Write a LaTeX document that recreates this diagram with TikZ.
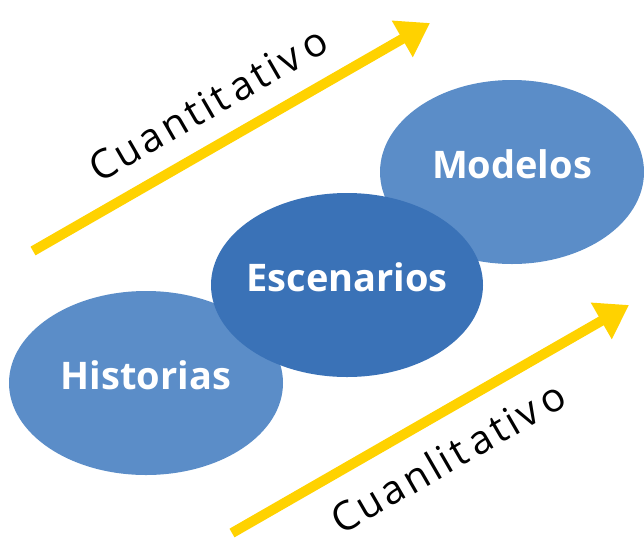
\documentclass[tikz,border=0pt]{standalone}
\usepackage{fontspec}
\setmainfont{Open Sans}
\usetikzlibrary{shapes.geometric, arrows.meta}
\definecolor{softblue}{HTML}{5B8DC8}
\definecolor{deepblue}{HTML}{3A72B7}
\definecolor{gold}{HTML}{FFD200}
\tikzset{
bubble/.style={ellipse, fill=softblue, text=white, inner ysep=0pt, inner xsep=-30pt,
  minimum width=272pt, minimum height=184pt, text depth=16pt,
  font=\bfseries\fontsize{38}{38}\selectfont}, % the three blue ellipses
trend/.style={gold, line width=10pt, -{Triangle[width=40pt,length=32pt]}}, % yellow arrows
trendlabel/.style={rotate=30, inner sep=0pt,
  font=\fontsize{40}{40}\selectfont\addfontfeatures{LetterSpace=8}}, % slanted words
}
\begin{document}
\begin{tikzpicture}[x=1pt, y=-1pt]
    \useasboundingbox (0,0) rectangle (644,538);
    % arrows
    \coordinate (qtail) at (33,251);
    \coordinate (qtip) at (430,23);
    \coordinate (ltail) at (232,533);
    \coordinate (ltip) at (629,305);
    \draw[trend] (qtail) -- (qtip);
    \draw[trend] (ltail) -- (ltip);
    \node[trendlabel] (quant) at (208,104) {Cuantit\,ativ\,o};
    \node[trendlabel] (qual) at (448,457) {Cuanlit\,ativ\,o};
    % ellipses
    \node[bubble, minimum width=264pt] (modelos) at (512,172) {Modelos};
    \node[bubble, minimum width=274pt] (historias) at (146,383) {Historias};
    \node[bubble, fill=deepblue] (escenarios) at (347,285) {Escenarios};
\end{tikzpicture}
\end{document}
